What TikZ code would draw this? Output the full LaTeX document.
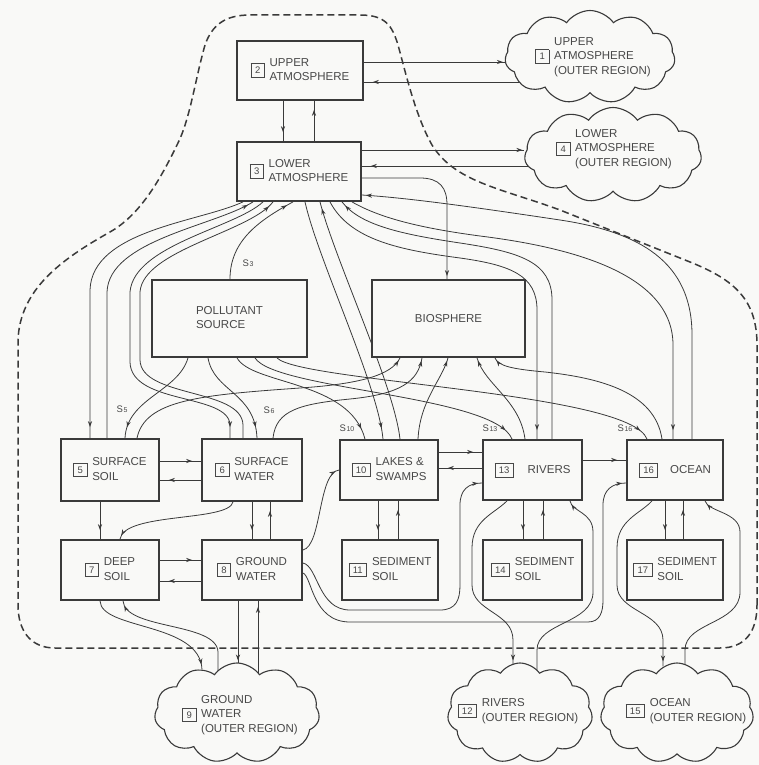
\documentclass[tikz,border=0pt]{standalone}
\usepackage{fontspec}
\setmainfont{Liberation Sans}
\usetikzlibrary{shapes.symbols,decorations.markings,arrows.meta}
\definecolor{ink}{RGB}{58,58,58}
\definecolor{txtc}{RGB}{72,72,72}
\definecolor{paper}{RGB}{249,249,247}
\pgfdeclarelayer{bg}
\pgfsetlayers{bg,main}
\newcommand\dtxt{\fontsize{11.5}{14.5}\selectfont}
\newcommand\nb[1]{{\fboxsep=2.6pt\fboxrule=0.7pt\fbox{\fontsize{9.5}{9.5}\selectfont\rule[-0.8pt]{0pt}{8pt}\kern1pt#1\kern1pt}}}
\newcommand\lbl[2]{\nb{#1}\hspace{5pt}\begin{tabular}{@{}l@{}}#2\end{tabular}}
\newcommand\sfl[1]{{\fontsize{9.5}{10}\selectfont S\kern0.6pt\raisebox{-0.3pt}{\fontsize{7}{7}\selectfont #1}}}
\tikzset{
  box/.style={draw=ink, line width=1.8pt, fill=paper, inner sep=0pt, font=\dtxt, text=txtc},
  cl/.style={cloud, cloud puffs=11, cloud puff arc=110, draw=ink, line width=1.1pt, fill=paper, inner sep=0pt},
  ctext/.style={font=\dtxt, text=txtc, inner sep=0pt},
  ln/.style={color=ink, line width=0.8pt},
  arr/.style={ln, postaction={decorate}, decoration={markings, mark=at position #1 with {\arrow{Stealth[length=6pt,width=4.2pt]}}}},
  arr/.default=-9pt,
  bound/.style={color=ink, line width=1.5pt, dash pattern=on 7pt off 4pt},
  slab/.style={text=txtc, inner sep=1pt},
}
\begin{document}
\begin{tikzpicture}[x=1pt,y=-1pt]
\begin{pgfonlayer}{bg}
\fill[paper] (0,0) rectangle (759,765);
\end{pgfonlayer}
\useasboundingbox (0,0) rectangle (759,765);

% boxes
\node[box, minimum width=126pt, minimum height=59pt] (b2) at (300,70.5) {\lbl{2}{UPPER\\ATMOSPHERE}};
\node[box, minimum width=124pt, minimum height=59pt] (b3) at (299,171.5) {\lbl{3}{LOWER\\ATMOSPHERE}};
\node[box, minimum width=155pt, minimum height=77pt] (ps) at (229.5,318.5) {\begin{tabular}{@{}l@{}}POLLUTANT\\SOURCE\end{tabular}};
\node[box, minimum width=153pt, minimum height=77pt] (bio) at (448.5,318.5) {BIOSPHERE};
\node[box, minimum width=98pt, minimum height=62pt] (b5) at (110,470) {\lbl{5}{SURFACE\\SOIL}};
\node[box, minimum width=100pt, minimum height=62pt] (b6) at (252,470) {\lbl{6}{SURFACE\\WATER}};
\node[box, minimum width=98pt, minimum height=60pt] (b10) at (389,470) {\lbl{10}{LAKES \&\\SWAMPS}};
\node[box, minimum width=99pt, minimum height=60pt] (b13) at (532.5,470) {\nb{13}\hspace{14pt}RIVERS};
\node[box, minimum width=96pt, minimum height=60pt] (b16) at (675,470) {\nb{16}\hspace{12pt}OCEAN};
\node[box, minimum width=98pt, minimum height=60pt] (b7) at (110,570) {\lbl{7}{DEEP\\SOIL}};
\node[box, minimum width=100pt, minimum height=60pt] (b8) at (252,570) {\lbl{8}{GROUND\\WATER}};
\node[box, minimum width=96pt, minimum height=60pt] (b11) at (390,570) {\lbl{11}{SEDIMENT\\SOIL}};
\node[box, minimum width=99pt, minimum height=60pt] (b14) at (532.5,570) {\lbl{14}{SEDIMENT\\SOIL}};
\node[box, minimum width=96pt, minimum height=60pt] (b17) at (675,570) {\lbl{17}{SEDIMENT\\SOIL}};

% clouds
\node[cl, minimum width=170pt, minimum height=93pt] (c1) at (590,57) {};
\node[cl, minimum width=177pt, minimum height=95pt] (c4) at (613,155) {};
\node[cl, minimum width=165pt, minimum height=100pt] (c9) at (237,713) {};
\node[cl, minimum width=145pt, minimum height=100pt] (c12) at (520,713) {};
\node[cl, minimum width=153pt, minimum height=100pt] (c15) at (677,713) {};
\node[ctext] (t1) at (593,57) {\lbl{1}{UPPER\\ATMOSPHERE\\(OUTER REGION)}};
\node[ctext] (t4) at (614,149) {\lbl{4}{LOWER\\ATMOSPHERE\\(OUTER REGION)}};
\node[ctext] (t9) at (240,715) {\lbl{9}{GROUND\\WATER\\(OUTER REGION)}};
\node[ctext] (t12) at (518,711) {\lbl{12}{RIVERS\\(OUTER REGION)}};
\node[ctext] (t15) at (686,711) {\lbl{15}{OCEAN\\(OUTER REGION)}};

% source labels
\node[slab] (s3) at (248,263) {\sfl{3}};
\node[slab] (s5) at (122,409) {\sfl{5}};
\node[slab] (s6) at (269,410) {\sfl{6}};
\node[slab] (s10) at (347,428) {\sfl{10}};
\node[slab] (s13) at (490,428) {\sfl{13}};
\node[slab] (s16) at (625,428) {\sfl{16}};

% cloud entry points
\path (c9.north) ++(-35,7) coordinate (c9a);
\path (c9.north) ++(1,3) coordinate (c9b);
\path (c12.north) ++(-7,3) coordinate (c12a);
\path (c15.north) ++(-14,4) coordinate (c15a);

\begin{pgfonlayer}{bg}
% system boundary
\draw[bound] (757,605) -- (757,345) .. controls (757,300) and (735,280) .. (690,262) -- (560,210) .. controls (500,188) and (455,182) .. (432,145) .. controls (415,115) and (405,70) .. (398,45) .. controls (392,25) and (385,15) .. (360,15) -- (250,15) .. controls (225,15) and (212,25) .. (205,45) .. controls (195,80) and (190,120) .. (177,145) .. controls (160,180) and (140,215) .. (110,232) .. controls (60,260) and (20,290) .. (18,340) -- (18,605) .. controls (18,630) and (30,648) .. (55,648) -- (720,648) .. controls (745,648) and (757,632) .. (757,605);

% atmosphere
\draw[arr] (b2.south -| 283,0) -- (b3.north -| 283,0);
\draw[arr] (b3.north -| 314,0) -- (b2.south -| 314,0);
\draw[arr=-2pt] (b2.east |- 0,62) -- (c1.west |- 0,62);
\draw[arr] (c1.center |- 0,82) -- (b2.east |- 0,82);
\draw[arr=-2pt] (b3.east |- 0,150) -- (c4.west |- 0,150);
\draw[arr] (c4.center |- 0,166) -- (b3.east |- 0,166);

% lower atmosphere to biosphere, rivers, ocean
\draw[arr=-3pt] (b3.east |- 0,178) -- (420,178) .. controls (440,178) and (447,188) .. (447,205) -- (bio.north -| 447,0);
\draw[arr=-4pt] (b16.north -| 692,0) -- (692,335) .. controls (692,262) and (640,232) .. (560,220) .. controls (480,208) and (410,198) .. (b3.east |- 0,195);
\draw[arr] (b3.south -| 352,0) .. controls (380,218) and (420,228) .. (480,236) .. controls (560,246) and (673,270) .. (673,345) -- (b16.north -| 673,0);
\draw[arr=-5pt] (b13.north -| 552,0) -- (552,300) .. controls (552,262) and (520,252) .. (460,243) .. controls (400,234) and (360,225) .. (b3.south -| 342,0);
\draw[arr] (b3.south -| 330,0) .. controls (350,240) and (400,250) .. (460,258) .. controls (510,265) and (537,275) .. (537,310) -- (b13.north -| 537,0);

% lower atmosphere to lakes
\draw[arr=-11pt] (b3.south -| 305,0) .. controls (318,260) and (378,385) .. (b10.north -| 383,0);
\draw[arr=-7pt] (b10.north -| 400,0) .. controls (394,385) and (335,260) .. (b3.south -| 320,0);

% lower atmosphere to surface soil and water
\draw[arr=-11pt] (b3.south -| 243,0) .. controls (200,222) and (92,230) .. (90,290) -- (b5.north -| 90,0);
\draw[arr=-6pt] (b5.north -| 107,0) -- (107,292) .. controls (109,240) and (215,226) .. (b3.south -| 253,0);
\draw[arr=-11pt] (b3.south -| 263,0) .. controls (235,228) and (134,245) .. (130,292) -- (130,362) .. controls (131,405) and (229,393) .. (230,425) -- (b6.north -| 230,0);
\draw[arr=-6pt] (b6.north -| 243,0) -- (243,425) .. controls (242,388) and (141,398) .. (140,360) -- (140,292) .. controls (143,250) and (250,232) .. (b3.south -| 273,0);

% pollutant source
\draw[arr=-7pt] (ps.north -| 230,0) .. controls (230,240) and (260,220) .. (b3.south -| 293,0);
\draw[arr=-11pt] (ps.south -| 188,0) .. controls (178,392) and (127,398) .. (b5.north -| 125,0);
\draw[arr=-11pt] (ps.south -| 208,0) .. controls (214,392) and (255,392) .. (b6.north -| 257,0);
\draw[arr=-11pt] (ps.south -| 237,0) .. controls (252,385) and (350,380) .. (b10.north -| 365,0);
\draw[arr=-11pt] (ps.south -| 255,0) .. controls (275,390) and (495,395) .. (b13.north -| 512,0);
\draw[arr=-11pt] (ps.south -| 277,0) .. controls (300,382) and (630,392) .. (b16.north -| 647,0);

% to biosphere
\draw[arr=-3pt] (b5.north -| 137,0) .. controls (145,400) and (200,395) .. (300,388) .. controls (360,384) and (392,375) .. (bio.south -| 400,0);
\draw[arr=-3pt] (b6.north -| 273,0) .. controls (276,410) and (300,404) .. (350,399) .. controls (400,394) and (418,382) .. (bio.south -| 422,0);
\draw[arr=-3pt] (b10.north -| 418,0) .. controls (420,400) and (442,380) .. (bio.south -| 448,0);
\draw[arr=-3pt] (b13.north -| 525,0) .. controls (520,400) and (485,385) .. (bio.south -| 477,0);
\draw[arr=-3pt] (b16.north -| 662,0) .. controls (655,392) and (600,378) .. (545,372) .. controls (512,369) and (498,366) .. (bio.south -| 495,0);

% lower compartments
\draw[arr] (b5.east |- 0,461) -- (b6.west |- 0,461);
\draw[arr] (b6.west |- 0,480) -- (b5.east |- 0,480);
\draw[arr] (b7.east |- 0,560) -- (b8.west |- 0,560);
\draw[arr] (b8.west |- 0,581) -- (b7.east |- 0,581);
\draw[arr] (b5.south -| 100,0) -- (b7.north -| 100,0);
\draw[arr=-4pt] (b6.south -| 233,0) .. controls (229,522) and (124,512) .. (b7.north -| 120,0);
\draw[arr] (b6.south -| 252,0) -- (b8.north -| 252,0);
\draw[arr] (b8.north -| 270,0) -- (b6.south -| 270,0);
\draw[arr=-4pt] (b8.east |- 0,550) .. controls (322,546) and (318,472) .. (b10.west |- 0,470);
\draw[arr] (b10.east |- 0,452) -- (b13.west |- 0,452);
\draw[arr] (b13.west |- 0,468) -- (b10.east |- 0,468);
\draw[arr] (b13.east |- 0,460) -- (b16.west |- 0,460);
\draw[arr] (b10.south -| 378,0) -- (b11.north -| 378,0);
\draw[arr] (b11.north -| 398,0) -- (b10.south -| 398,0);
\draw[arr] (b13.south -| 523,0) -- (b14.north -| 523,0);
\draw[arr] (b14.north -| 543,0) -- (b13.south -| 543,0);
\draw[arr] (b16.south -| 665,0) -- (b17.north -| 665,0);
\draw[arr] (b17.north -| 683,0) -- (b16.south -| 683,0);

% ground water to rivers and ocean
\draw[arr=-4pt] (b8.east |- 0,563) .. controls (318,566) and (318,610) .. (350,610) -- (440,610) .. controls (456,610) and (460,600) .. (460,585) -- (460,505) .. controls (460,490) and (468,483) .. (b13.west |- 0,483);
\draw[arr=-4pt] (b8.east |- 0,573) .. controls (312,576) and (312,622) .. (350,622) -- (588,622) .. controls (600,622) and (603,612) .. (603,600) -- (603,505) .. controls (603,490) and (612,483) .. (b16.west |- 0,483);

% outer regions
\draw[arr=-5pt] (b13.south -| 507,0) .. controls (494,514) and (472,520) .. (472,548) -- (472,585) .. controls (472,612) and (513,612) .. (513,640) -- (c12a);
\draw[arr=-4pt] (c12.center -| 537,0) -- (537,650) .. controls (537,622) and (593,624) .. (593,592) -- (593,532) .. controls (593,512) and (572,512) .. (b13.south -| 570,0);
\draw[arr=-5pt] (b16.south -| 652,0) .. controls (640,514) and (617,520) .. (617,548) -- (617,585) .. controls (617,612) and (663,612) .. (663,640) -- (c15a);
\draw[arr=-4pt] (c15.center -| 685,0) -- (685,650) .. controls (685,622) and (740,624) .. (740,592) -- (740,532) .. controls (740,512) and (708,512) .. (b16.south -| 705,0);
\draw[arr=-5pt] (b7.south -| 100,0) .. controls (101,630) and (200,622) .. (c9a);
\draw[arr=-5pt] (c9.center -| 218,0) -- (218,652) .. controls (217,622) and (125,630) .. (b7.south -| 123,0);
\draw[arr=-5pt] (b8.south -| 238,0) -- (c9b);
\draw[arr=-6pt] (c9.center -| 258,0) -- (b8.south -| 258,0);
\end{pgfonlayer}
\end{tikzpicture}
\end{document}
